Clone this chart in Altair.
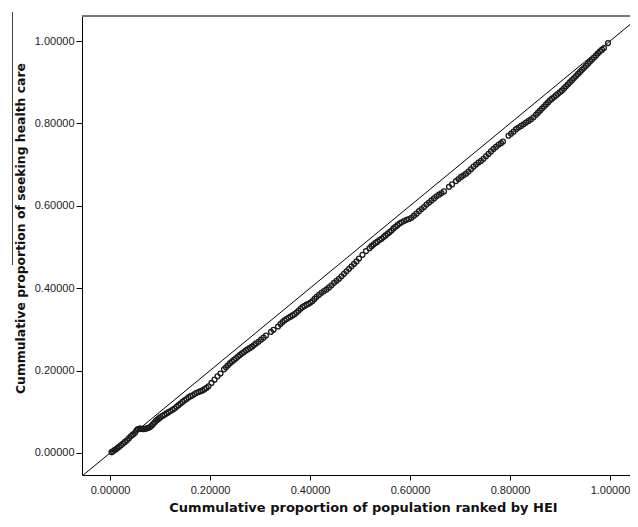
import altair as alt
import pandas as pd

# Concentration curve points
x_vals = [
    0.003, 0.006, 0.009, 0.012, 0.015, 0.018, 0.022, 0.026, 0.030, 0.034,
    0.038, 0.042, 0.046, 0.050, 0.053, 0.056, 0.059, 0.062, 0.065, 0.068,
    0.071, 0.074, 0.077, 0.080, 0.083, 0.086, 0.089, 0.092, 0.095, 0.098,
    0.101, 0.105, 0.109, 0.113, 0.117, 0.121, 0.125, 0.129, 0.133, 0.137,
    0.141, 0.145, 0.149, 0.153, 0.157, 0.161, 0.165, 0.169, 0.173, 0.177,
    0.181, 0.185, 0.189, 0.193, 0.197, 0.203, 0.209, 0.215, 0.221, 0.228,
    0.232, 0.236, 0.240, 0.244, 0.248, 0.252, 0.256, 0.260, 0.264, 0.268,
    0.272, 0.276, 0.280, 0.284, 0.288, 0.292, 0.297, 0.302, 0.307, 0.312,
    0.322, 0.327, 0.336, 0.341, 0.345, 0.349, 0.353, 0.357, 0.361, 0.365,
    0.369, 0.373, 0.377, 0.381, 0.385, 0.389, 0.393, 0.397, 0.401, 0.405,
    0.409, 0.413, 0.418, 0.423, 0.428, 0.433, 0.438, 0.443, 0.448, 0.453,
    0.458, 0.463, 0.468, 0.473, 0.478, 0.483, 0.488, 0.493, 0.498, 0.505,
    0.512, 0.519, 0.523, 0.527, 0.531, 0.535, 0.539, 0.543, 0.547, 0.551,
    0.555, 0.559, 0.563, 0.567, 0.571, 0.575, 0.579, 0.583, 0.588, 0.593,
    0.598, 0.603, 0.608, 0.613, 0.618, 0.623, 0.628, 0.633, 0.638, 0.643,
    0.648, 0.653, 0.658, 0.663, 0.668, 0.678, 0.684, 0.692, 0.697, 0.702,
    0.707, 0.712, 0.717, 0.722, 0.727, 0.732, 0.737, 0.742, 0.747, 0.752,
    0.757, 0.762, 0.767, 0.772, 0.777, 0.782, 0.786, 0.797, 0.802, 0.807,
    0.812, 0.817, 0.822, 0.827, 0.832, 0.837, 0.842, 0.847, 0.852, 0.856,
    0.860, 0.864, 0.868, 0.872, 0.876, 0.880, 0.884, 0.888, 0.892, 0.896,
    0.900, 0.904, 0.908, 0.912, 0.916, 0.920, 0.924, 0.928, 0.932, 0.936,
    0.940, 0.944, 0.948, 0.952, 0.956, 0.960, 0.964, 0.968, 0.972, 0.976,
    0.980, 0.984, 0.988, 0.996,
]
y_vals = [
    0.002, 0.004, 0.007, 0.009, 0.012, 0.015, 0.019, 0.023, 0.027, 0.031,
    0.036, 0.041, 0.045, 0.049, 0.055, 0.058, 0.059, 0.059, 0.058, 0.058,
    0.059, 0.060, 0.061, 0.063, 0.066, 0.070, 0.074, 0.078, 0.081, 0.084,
    0.087, 0.090, 0.093, 0.096, 0.099, 0.102, 0.105, 0.108, 0.112, 0.116,
    0.120, 0.124, 0.128, 0.131, 0.135, 0.138, 0.140, 0.143, 0.146, 0.148,
    0.150, 0.152, 0.155, 0.158, 0.162, 0.170, 0.178, 0.186, 0.193, 0.203,
    0.208, 0.213, 0.218, 0.222, 0.226, 0.230, 0.234, 0.238, 0.242, 0.245,
    0.249, 0.252, 0.255, 0.258, 0.262, 0.266, 0.270, 0.275, 0.280, 0.285,
    0.294, 0.299, 0.307, 0.313, 0.318, 0.322, 0.325, 0.328, 0.331, 0.334,
    0.337, 0.341, 0.345, 0.350, 0.354, 0.357, 0.360, 0.362, 0.365, 0.369,
    0.374, 0.379, 0.384, 0.389, 0.393, 0.397, 0.402, 0.407, 0.413, 0.418,
    0.423, 0.429, 0.435, 0.441, 0.447, 0.453, 0.459, 0.465, 0.472, 0.481,
    0.490, 0.497, 0.502, 0.506, 0.510, 0.513, 0.517, 0.520, 0.524, 0.528,
    0.532, 0.536, 0.540, 0.545, 0.549, 0.553, 0.557, 0.560, 0.563, 0.566,
    0.568, 0.571, 0.576, 0.581, 0.587, 0.592, 0.597, 0.603, 0.608, 0.613,
    0.618, 0.623, 0.627, 0.631, 0.635, 0.646, 0.652, 0.660, 0.665, 0.670,
    0.674, 0.678, 0.683, 0.689, 0.695, 0.700, 0.705, 0.709, 0.714, 0.720,
    0.726, 0.732, 0.738, 0.743, 0.748, 0.752, 0.756, 0.770, 0.775, 0.780,
    0.786, 0.790, 0.794, 0.798, 0.802, 0.806, 0.810, 0.815, 0.821, 0.826,
    0.831, 0.836, 0.841, 0.846, 0.851, 0.856, 0.860, 0.864, 0.868, 0.872,
    0.876, 0.880, 0.885, 0.890, 0.895, 0.900, 0.905, 0.910, 0.915, 0.920,
    0.925, 0.930, 0.935, 0.940, 0.945, 0.950, 0.955, 0.960, 0.965, 0.970,
    0.975, 0.979, 0.983, 0.995,
]
assert len(x_vals) == len(y_vals)

x_ticks = [0.0, 0.2, 0.4, 0.6, 0.8, 1.0]
y_ticks = [0.0, 0.2, 0.4, 0.6, 0.8, 1.0]
diag_vals = [-0.07, 1.07]

x_title = "Cummulative proportion of population ranked by HEI"
y_title = "Cummulative proportion of seeking health care"

pts = pd.DataFrame({"x": x_vals, "y": y_vals})
diag = pd.DataFrame({"x": diag_vals, "y": diag_vals})

W, H = 548, 459
FONT = "Liberation Sans, Arial, sans-serif"
TFONT = "DejaVu Sans, Verdana, sans-serif"

xs = alt.Scale(domain=[-0.056, 1.04], nice=False, zero=False)
ys = alt.Scale(domain=[-0.0534, 1.0607], nice=False, zero=False)

xaxis = alt.Axis(
    values=x_ticks, format=".5f", title=x_title, grid=False,
    domainColor="black", domainWidth=1, tickColor="black", tickSize=5, tickWidth=1,
    labelPadding=4, labelFont=FONT, labelFontSize=11, labelColor="#222",
    titleFont=TFONT, titleFontSize=13, titleFontWeight="bold", titleColor="#111",
    titleX=281, titleY=32, titleBaseline="middle", titleAlign="center",
)
yaxis = alt.Axis(
    values=y_ticks, format=".5f", title=y_title, grid=False,
    domainColor="black", domainWidth=1, tickColor="black", tickSize=6, tickWidth=1,
    labelPadding=2, labelFont=FONT, labelFontSize=11, labelColor="#222",
    titleFont=TFONT, titleFontSize=12.4, titleFontWeight="bold", titleColor="#111",
    titleX=-62, titleY=212, titleBaseline="middle", titleAlign="center", titleAngle=270,
)

X = alt.X("x:Q", scale=xs, axis=xaxis)
Y = alt.Y("y:Q", scale=ys, axis=yaxis)

diag_layer = alt.Chart(diag).mark_line(color="black", strokeWidth=1, clip=True).encode(x=X, y=Y)

pts_layer = alt.Chart(pts).mark_point(
    shape="circle", filled=False, size=24, strokeWidth=1.3, color="#1a1a1a", opacity=1
).encode(x=X, y=Y)

top_rule = alt.Chart(pts).mark_rule(color="#777777", strokeWidth=1.5).encode(
    x=alt.value(0), x2=alt.value(W), y=alt.value(0)
)
left_rule = alt.Chart(pts).mark_rule(color="#444444", strokeWidth=1).encode(
    x=alt.value(-69.5), y=alt.value(-4), y2=alt.value(249)
)

chart = alt.layer(top_rule, left_rule, diag_layer, pts_layer).properties(
    width=W, height=H,
    autosize=alt.AutoSizeParams(type="none"),
    padding={"left": 74, "top": 8, "right": 0, "bottom": 44},
    background="white",
).configure_view(stroke=None)

chart.save("out.html", embed_options={"renderer": "svg", "actions": False})
